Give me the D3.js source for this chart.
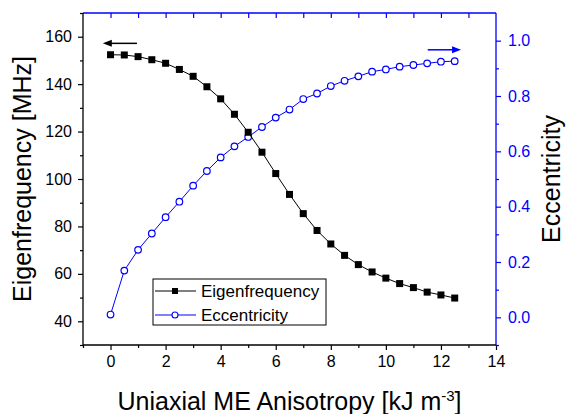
<!DOCTYPE html>
<html>
<head>
<meta charset="utf-8">
<script src="https://d3js.org/d3.v7.min.js"></script>
<style>
  body { margin: 0; background: #fff; }
  svg { font-family: "Liberation Sans", Arial, sans-serif; }
</style>
</head>
<body>
<svg id="chart" width="567" height="414"></svg>
<script>
// anisotropy values (x)
const anisotropy = [0, 0.5, 1, 1.5, 2, 2.5, 3, 3.5, 4, 4.5, 5, 5.5, 6, 6.5, 7, 7.5, 8, 8.5, 9, 9.5, 10, 10.5, 11, 11.5, 12, 12.5];
const eigenfrequency = [152.4, 152.3, 151.6, 150.3, 148.8, 146.2, 143.3, 138.9, 133.8, 127.3, 119.7, 111.3, 102.3,
    93.5, 85.4, 78.3, 72.6, 67.8, 63.9, 60.8, 58.2, 55.9, 54.2, 52.3, 51.1, 49.8];
const eccentricity = [0.01, 0.169, 0.244, 0.303, 0.362, 0.418, 0.476, 0.529, 0.578, 0.618, 0.652, 0.688, 0.722,
    0.751, 0.789, 0.809, 0.836, 0.855, 0.871, 0.888, 0.896, 0.906, 0.912, 0.918, 0.924, 0.926];

const xTicks = [0, 2, 4, 6, 8, 10, 12, 14];
const eigenTicks = [40, 60, 80, 100, 120, 140, 160];
const eccTicks = [0, 0.2, 0.4, 0.6, 0.8, 1.0];
const seriesNames = ['Eigenfrequency', 'Eccentricity'];

const blue = '#0000ff',
    black = '#000',
    svg = d3.select('#chart'),
    margin = {left: 83, right: 496, top: 13, bottom: 345},
    majorLen = 5, minorLen = 3;

const x = d3.scaleLinear().domain([-1, 14]).range([margin.left, margin.right]);
const yL = d3.scaleLinear().domain([30, 170]).range([margin.bottom, margin.top]);
const yR = d3.scaleLinear().domain([-0.1, 1.1]).range([margin.bottom, margin.top]);

function styleAxis(g, color, size) {
    g.select('.domain').remove();
    g.selectAll('.tick line').attr('stroke', color).attr('stroke-width', 1.2);
    g.selectAll('.tick text').attr('fill', color).style('font-size', size + 'px').style('font-family', '"Liberation Sans", Arial, sans-serif');
}

// bottom axis: minor then major
svg.append('g').attr('transform', 'translate(0,' + margin.bottom + ')')
    .call(d3.axisBottom(x).tickValues(d3.range(-1, 14, 2)).tickSize(minorLen).tickFormat(''))
    .call(g => styleAxis(g, black, 16));
svg.append('g').attr('transform', 'translate(0,' + margin.bottom + ')')
    .call(d3.axisBottom(x).tickValues(xTicks).tickSize(majorLen).tickPadding(6).tickFormat(d3.format('d')))
    .call(g => styleAxis(g, black, 16));

// top axis, inward ticks
svg.append('g').attr('transform', 'translate(0,' + margin.top + ')')
    .call(d3.axisBottom(x).tickValues(d3.range(0, 14, 1)).tickSize(majorLen).tickFormat(''))
    .call(g => styleAxis(g, blue, 16));

// left axis
svg.append('g').attr('transform', 'translate(' + margin.left + ',0)')
    .call(d3.axisLeft(yL).tickValues(d3.range(30, 171, 20)).tickSize(minorLen).tickFormat(''))
    .call(g => styleAxis(g, black, 16));
svg.append('g').attr('transform', 'translate(' + margin.left + ',0)')
    .call(d3.axisLeft(yL).tickValues(eigenTicks).tickSize(majorLen).tickPadding(6))
    .call(g => styleAxis(g, black, 16));

// right axis
svg.append('g').attr('transform', 'translate(' + margin.right + ',0)')
    .call(d3.axisRight(yR).tickValues([-0.1, 0.1, 0.3, 0.5, 0.7, 0.9]).tickSize(minorLen).tickFormat(''))
    .call(g => styleAxis(g, blue, 16));
svg.append('g').attr('transform', 'translate(' + margin.right + ',0)')
    .call(d3.axisRight(yR).tickValues(eccTicks).tickSize(majorLen).tickPadding(7).tickFormat(d3.format('.1f')))
    .call(g => styleAxis(g, blue, 16));

// frame lines
svg.append('line').attr('x1', margin.left).attr('x2', margin.right).attr('y1', margin.top).attr('y2', margin.top)
    .attr('stroke', blue).attr('stroke-width', 1.3);
svg.append('line').attr('x1', margin.right).attr('x2', margin.right).attr('y1', margin.top).attr('y2', margin.bottom)
    .attr('stroke', blue).attr('stroke-width', 1.3);
svg.append('line').attr('x1', margin.left).attr('x2', margin.left).attr('y1', margin.top).attr('y2', margin.bottom)
    .attr('stroke', black).attr('stroke-width', 1.3);
svg.append('line').attr('x1', margin.left).attr('x2', margin.right).attr('y1', margin.bottom).attr('y2', margin.bottom)
    .attr('stroke', black).attr('stroke-width', 1.3);

// eccentricity series
svg.append('path')
    .attr('d', d3.line().x((d, i) => x(anisotropy[i])).y(d => yR(d))(eccentricity))
    .attr('fill', 'none').attr('stroke', blue).attr('stroke-width', 1);
svg.append('g').selectAll('circle').data(eccentricity).join('circle')
    .attr('cx', (d, i) => x(anisotropy[i])).attr('cy', d => yR(d)).attr('r', 3.3)
    .attr('fill', '#fff').attr('stroke', blue).attr('stroke-width', 1.2);

// eigenfrequency series
svg.append('path')
    .attr('d', d3.line().x((d, i) => x(anisotropy[i])).y(d => yL(d))(eigenfrequency))
    .attr('fill', 'none').attr('stroke', black).attr('stroke-width', 1);
svg.append('g').selectAll('rect').data(eigenfrequency).join('rect')
    .attr('x', (d, i) => x(anisotropy[i]) - 3.5).attr('y', d => yL(d) - 3.5)
    .attr('width', 7).attr('height', 7).attr('fill', black);

// direction arrows
function arrow(x1, x2, yy, color) {
    const dir = Math.sign(x2 - x1);
    svg.append('line').attr('x1', x1).attr('x2', x2 - dir * 6).attr('y1', yy).attr('y2', yy)
        .attr('stroke', color).attr('stroke-width', 1.5);
    svg.append('path')
        .attr('d', 'M' + x2 + ',' + yy + 'L' + (x2 - dir * 9) + ',' + (yy - 3.5) + 'L' + (x2 - dir * 9) + ',' + (yy + 3.5) + 'Z')
        .attr('fill', color);
}
arrow(x(0.96), x(-0.28), yL(157.2), black);
arrow(x(11.52), x(12.73), yR(0.967), blue);

// legend
const legend = svg.append('g').attr('transform', 'translate(153,279)');
legend.append('rect').attr('width', 173).attr('height', 46)
    .attr('fill', '#fff').attr('stroke', black).attr('stroke-width', 1);
[0, 1].forEach(function (i) {
    const yy = i === 0 ? 12 : 36;
    const color = i === 0 ? black : blue;
    legend.append('line').attr('x1', 2).attr('x2', 43).attr('y1', yy).attr('y2', yy)
        .attr('stroke', color).attr('stroke-width', 1);
    if (i === 0) {
        legend.append('rect').attr('x', 19).attr('y', yy - 3).attr('width', 6).attr('height', 6).attr('fill', black);
    } else {
        legend.append('circle').attr('cx', 22).attr('cy', yy).attr('r', 3)
            .attr('fill', '#fff').attr('stroke', blue).attr('stroke-width', 1.1);
    }
    legend.append('text').attr('x', 48).attr('y', yy).attr('dy', '0.35em')
        .style('font-size', '17px').attr('fill', black).text(seriesNames[i]);
});

// axis titles
const xt = svg.append('text').attr('x', (margin.left + margin.right) / 2).attr('y', 410)
    .attr('text-anchor', 'middle').style('font-size', '25px').attr('fill', black);
xt.append('tspan').text('Uniaxial ME Anisotropy [kJ m');
xt.append('tspan').attr('dy', -9).style('font-size', '15px').text('-3');
xt.append('tspan').attr('dy', 9).text(']');

svg.append('text').attr('transform', 'translate(31,' + (margin.top + margin.bottom) / 2 + ') rotate(-90)')
    .attr('text-anchor', 'middle').style('font-size', '25px').attr('fill', black)
    .text('Eigenfrequency [MHz]');
svg.append('text').attr('transform', 'translate(560,' + (margin.top + margin.bottom) / 2 + ') rotate(-90)')
    .attr('text-anchor', 'middle').style('font-size', '25px').attr('fill', black)
    .text('Eccentricity');
</script>
</body>
</html>
